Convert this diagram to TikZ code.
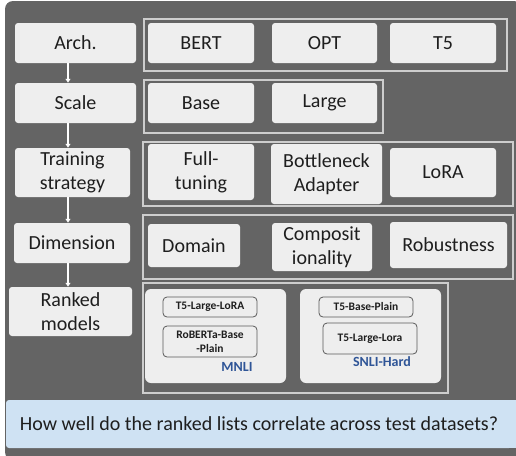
\documentclass[tikz,border=0pt]{standalone}
\usepackage{fontspec}
\setmainfont{Carlito}
\usetikzlibrary{arrows.meta}
\definecolor{bgdark}{RGB}{100,100,100}
\definecolor{boxfill}{RGB}{238,238,238}
\definecolor{framecol}{RGB}{205,205,205}
\definecolor{qblue}{RGB}{207,226,243}
\definecolor{lblblue}{RGB}{47,85,151}
\definecolor{txt}{RGB}{30,30,30}
\definecolor{mborder}{RGB}{90,90,90}
\tikzset{
  box/.style={fill=boxfill, rounded corners=3pt, inner sep=0pt, align=center, text=txt,
    font=\fontsize{20}{24}\selectfont},
  qbox/.style={box, fill=qblue},
  frm/.style={draw=framecol, line width=1.1pt},
  panel/.style={fill=boxfill, rounded corners=6pt, inner sep=0pt},
  mbox/.style={fill=boxfill, draw=mborder, line width=0.8pt, rounded corners=4pt, inner sep=0pt,
    align=center, text=txt, font=\fontsize{11.5}{14}\selectfont\bfseries},
  dlabel/.style={text=lblblue, font=\fontsize{14}{16}\selectfont\bfseries, inner sep=0pt},
  flow/.style={draw=white, line width=1.8pt, -{Latex[length=4pt,width=6pt]}},
}
\newcommand{\bx}[7][box]{\node[#1, minimum width={(#5-#3)*1pt}, minimum height={(#6-#4)*1pt}]
  (#2) at ({(#3+#5)/2},{-(#4+#6)/2}) {#7};}
\begin{document}
\begin{tikzpicture}[x=1pt,y=1pt]
\useasboundingbox (0,0) rectangle (516,-455);
% background
\fill[bgdark, rounded corners=8pt] (5,-1) rectangle (522,-460);
% question
\fill[qblue] (480,-400) rectangle (520,-448);
\bx[qbox]{q}{6}{400}{512}{448}{How well do the ranked lists correlate across test datasets?}
% left column
\bx{arch}{15}{23}{136}{63}{Arch.}
\bx{scale}{15}{83}{136}{123}{Scale}
\bx{train}{15}{148}{130}{197}{Training\\strategy}
\bx{dim}{14}{223}{130}{263}{Dimension}
\bx{rank}{9}{287}{132}{336}{Ranked\\models}
\draw[flow] (arch.south -| 68,0) -- (scale.north -| 68,0);
\draw[flow] (scale.south -| 68,0) -- (train.north -| 68,0);
\draw[flow] (train.south -| 68,0) -- (dim.north -| 68,0);
\draw[flow] (dim.south -| 68,0) -- (rank.north -| 68,0);
% frames
\draw[frm] (144,-19) rectangle (507,-71);
\draw[frm] (144,-80) rectangle (383,-133);
\draw[frm] (143,-142) rectangle (513,-206);
\draw[frm] (143,-215) rectangle (513,-279);
\draw[frm] (143,-283) rectangle (448,-393);
% row 1
\bx{bert}{148}{23}{254}{63}{BERT}
\bx{opt}{272}{23}{377}{63}{OPT}
\bx{tfive}{390}{23}{496}{63}{T5}
% row 2
\bx{base}{148}{83}{254}{123}{Base}
\bx{large}{272}{83}{377}{123}{Large}
% row 3
\bx{full}{148}{144}{254}{200}{Full-\\tuning}
\bx{bottle}{271}{144}{382}{204}{Bottleneck\\Adapter}
\bx{lora}{390}{148}{496}{197}{LoRA}
% row 4
\bx{domain}{148}{224}{240}{267}{Domain}
\bx{comp}{272}{223}{372}{271}{Composit\\ionality}
\bx{robust}{390}{222}{507}{268}{Robustness}
% row 5 panels
\bx[panel]{mnli}{145}{289}{286}{383}{}
\bx[panel]{snli}{300}{289}{441}{383}{}
\bx[mbox]{m1}{163}{297}{257}{317}{T5-Large-LoRA}
\bx[mbox]{m2}{163}{326}{257}{357}{RoBERTa-Base\\-Plain}
\node[dlabel] (mlab) at (237,-367) {MNLI};
\bx[mbox]{s1}{319}{297}{413}{317}{T5-Base-Plain}
\bx[mbox]{s2}{323}{323}{417}{354}{T5-Large-Lora}
\node[dlabel] (slab) at (382,-362) {SNLI-Hard};
\end{tikzpicture}
\end{document}
